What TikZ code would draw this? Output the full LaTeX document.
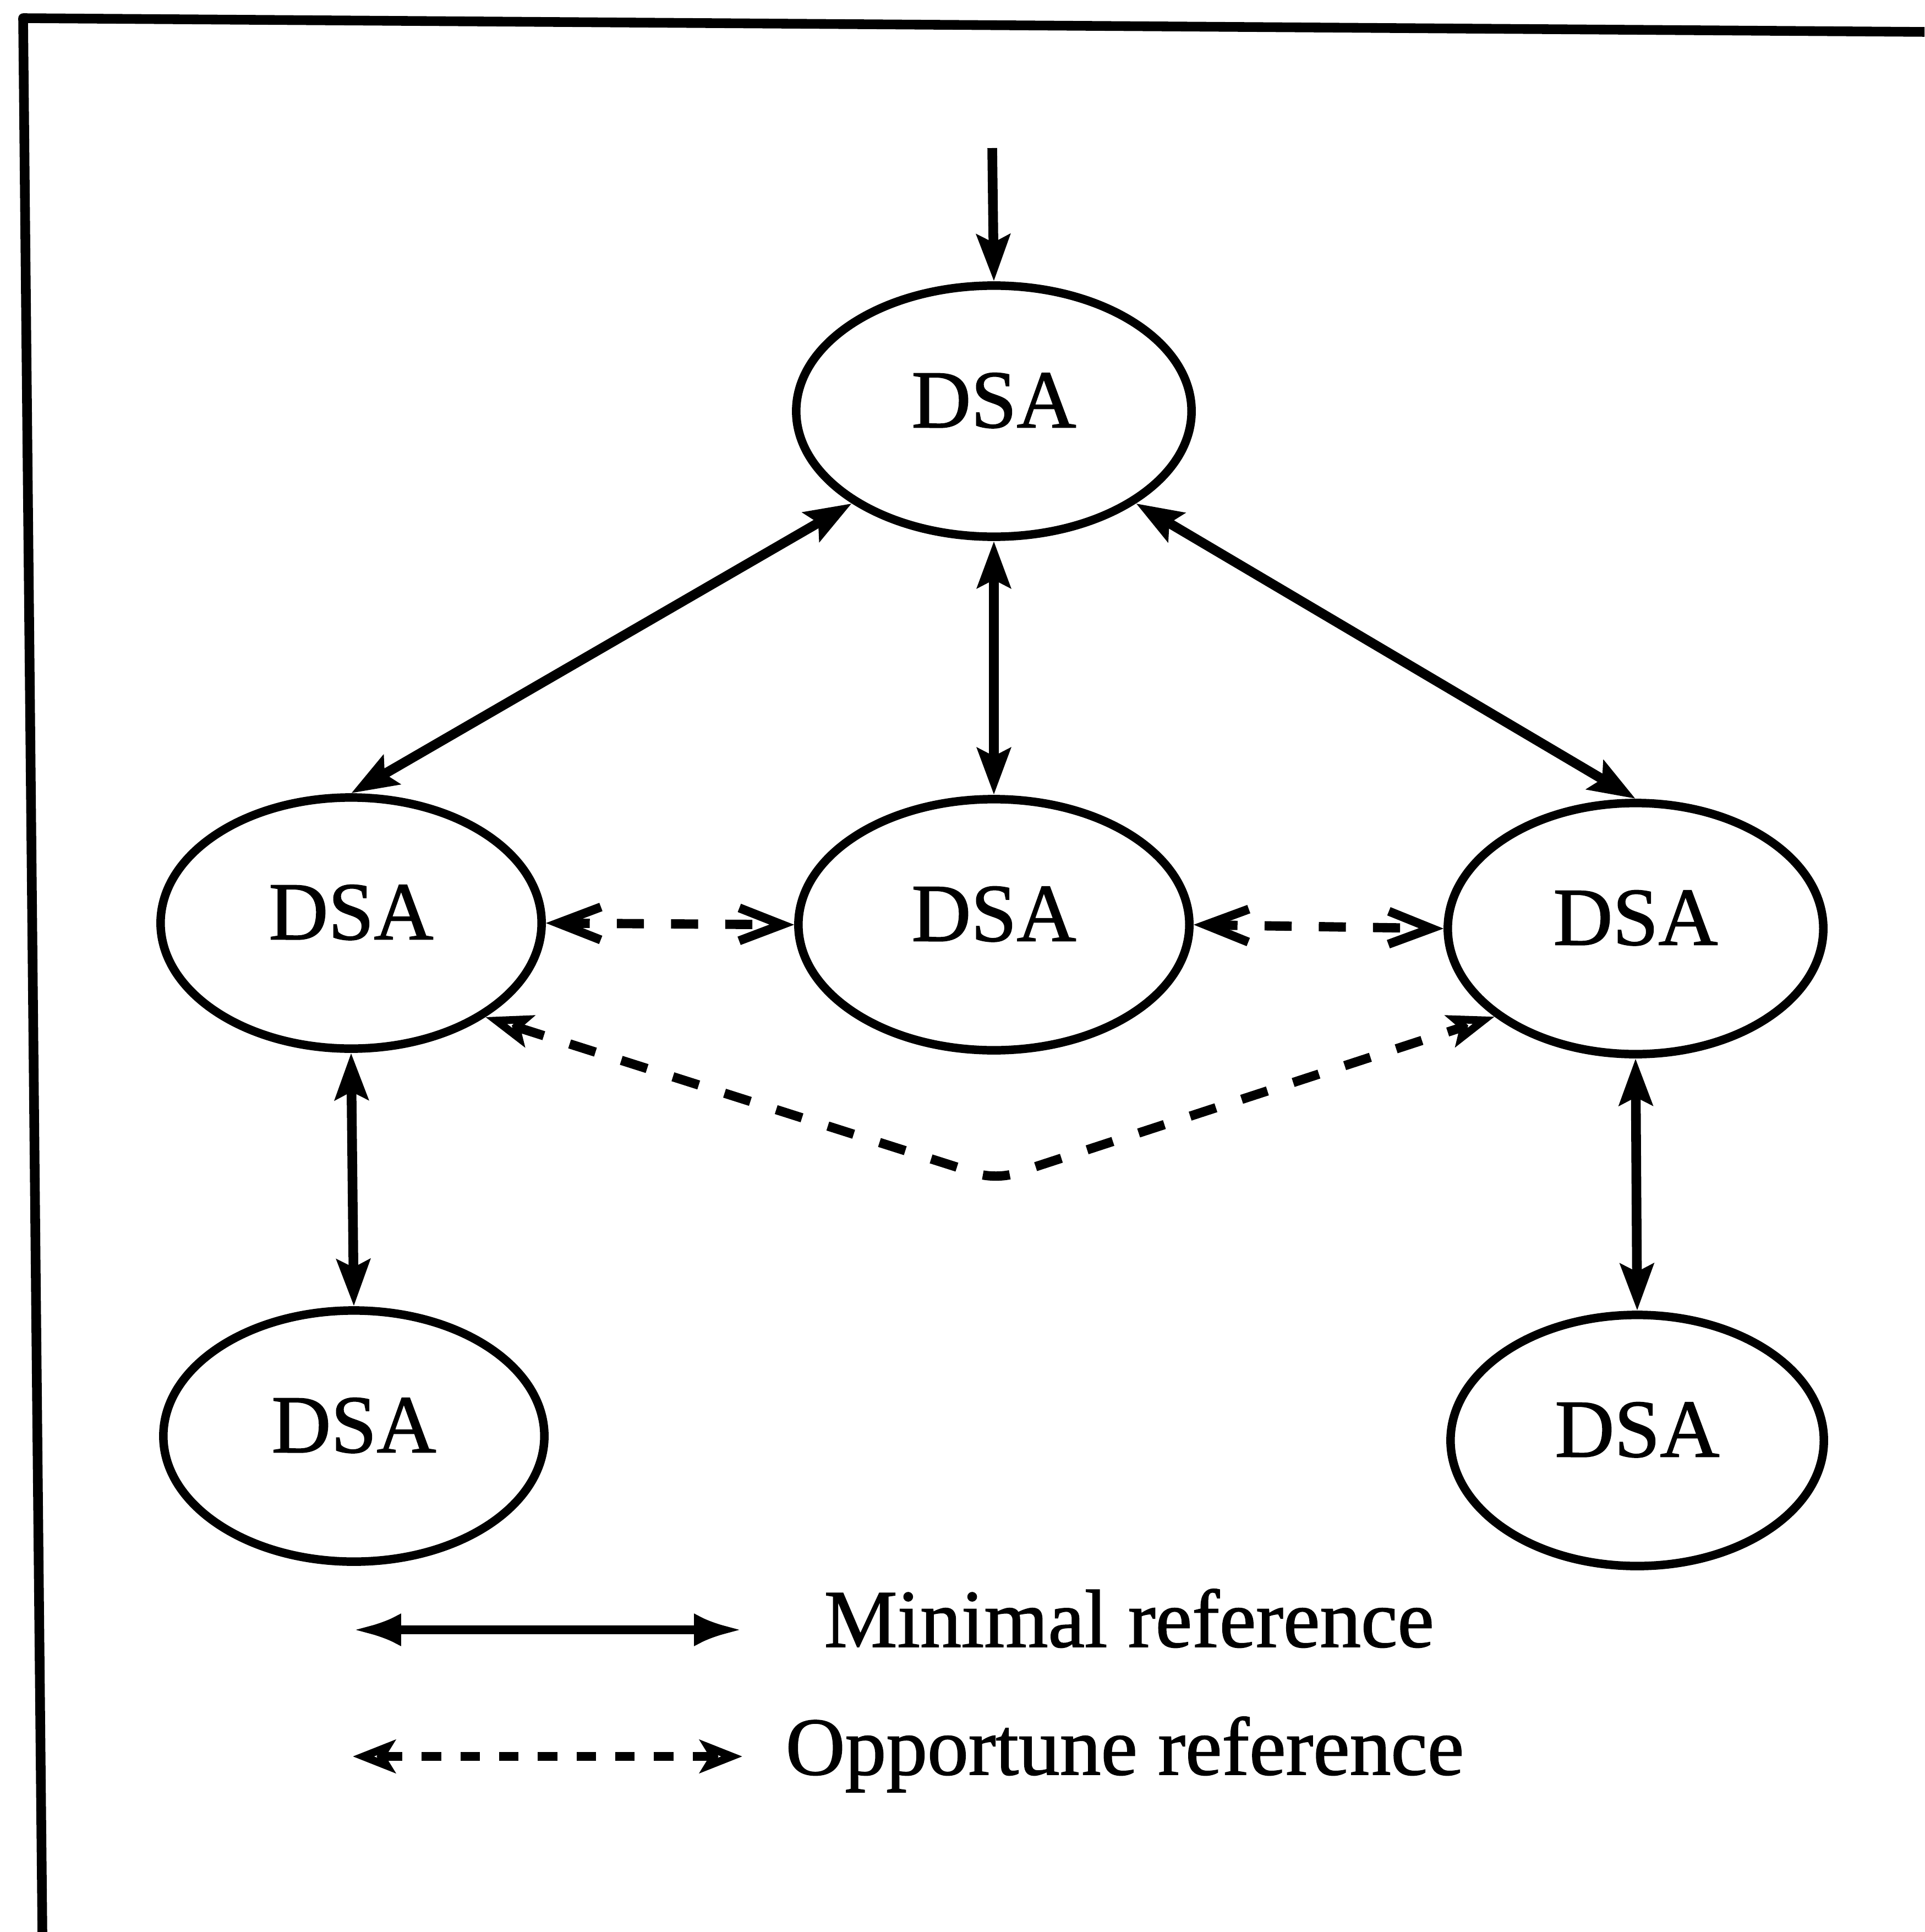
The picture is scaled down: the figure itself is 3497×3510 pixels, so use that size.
\documentclass[tikz,border=0pt]{standalone}
\usepackage{fontspec}
\setmainfont{Liberation Serif}
\newfontfamily\scanfont[FakeBold=1.2]{Liberation Serif}
\usetikzlibrary{shapes.geometric,arrows.meta}
\begin{document}
\begin{tikzpicture}[x=0.01cm,y=-0.01cm,
  dsa/.style={ellipse, draw, line width=4.4pt, inner sep=0pt, minimum width=6.92cm, minimum height=4.56cm,
    font=\scanfont\fontsize{42.5}{50}\selectfont, text depth=0.4cm},
  minone/.style={line width=5pt, >={Stealth[length=24pt,width=17pt,inset=4pt]}, ->},
  minref/.style={line width=5pt, >={Stealth[length=24pt,width=17pt,inset=4pt]}, <->},
  oppref/.style={line width=4.8pt, dash pattern=on 14pt off 14pt, >={Straight Barb[length=22pt,width=17pt,line width=4.6pt]}, <->},
  oppv/.style={line width=4.8pt, dash pattern=on 14pt off 14pt, >={Stealth[open,length=24pt,width=17pt,inset=5pt,line width=4pt]}, <->},
  legmin/.style={line width=4.6pt, >={Latex[length=25pt,width=17pt]}, <->},
  legopp/.style={line width=4.6pt, dash pattern=on 10pt off 10pt, >={Stealth[open,length=22pt,width=17pt,inset=5pt,line width=4pt]}, <->},
  frameline/.style={line width=5pt, line join=round},
  legtext/.style={anchor=base west, inner sep=0pt, font=\scanfont\fontsize{42.5}{50}\selectfont}]
\useasboundingbox (0,0) rectangle (3497,3510);
\fill[white] (0,0) rectangle (3497,3510);

% frame (only top and left edges are visible)
\draw[frameline] (3497,58) -- (42,33) -- (77,3510);

% nodes
\node[dsa, minimum width=7.18cm] (top) at (1806,747) {DSA};
\node[dsa] (lm) at (638,1677) {DSA};
\node[dsa, minimum width=7.10cm] (cm) at (1806,1680) {DSA};
\node[dsa, minimum width=6.82cm] (rm) at (2972,1687) {DSA};
\node[dsa] (bl) at (643,2609) {DSA};
\node[dsa, minimum width=6.78cm] (br) at (2975,2617) {DSA};

\coordinate (in) at (1803,269);
\coordinate (vb) at (1810,2143);

% minimal references
\draw[minone] (in) -- (top.north);
\draw[minref] (top.213) -- (lm.north);
\draw[minref] (top.south) -- (cm.north);
\draw[minref] (top.327) -- (rm.north);
\draw[minref] (lm.south) -- (bl.north);
\draw[minref] (rm.south) -- (br.north);

% opportune references
\draw[oppref] (lm.east) -- (cm.west);
\draw[oppref] (cm.east) -- (rm.west);
\draw[oppv, rounded corners=10pt] (lm.325) -- (vb) -- (rm.212);

% legend
\coordinate (lm1) at (641,2961);
\coordinate (lm2) at (1349,2961);
\coordinate (lo1) at (641,3191);
\coordinate (lo2) at (1349,3191);
\draw[legmin] (lm1) -- (lm2);
\draw[legopp] (lo1) -- (lo2);
\node[legtext] (t1) at (1497,2992) {Minimal reference};
\node[legtext] (t2) at (1427,3224) {Opportune reference};
\end{tikzpicture}
\end{document}
